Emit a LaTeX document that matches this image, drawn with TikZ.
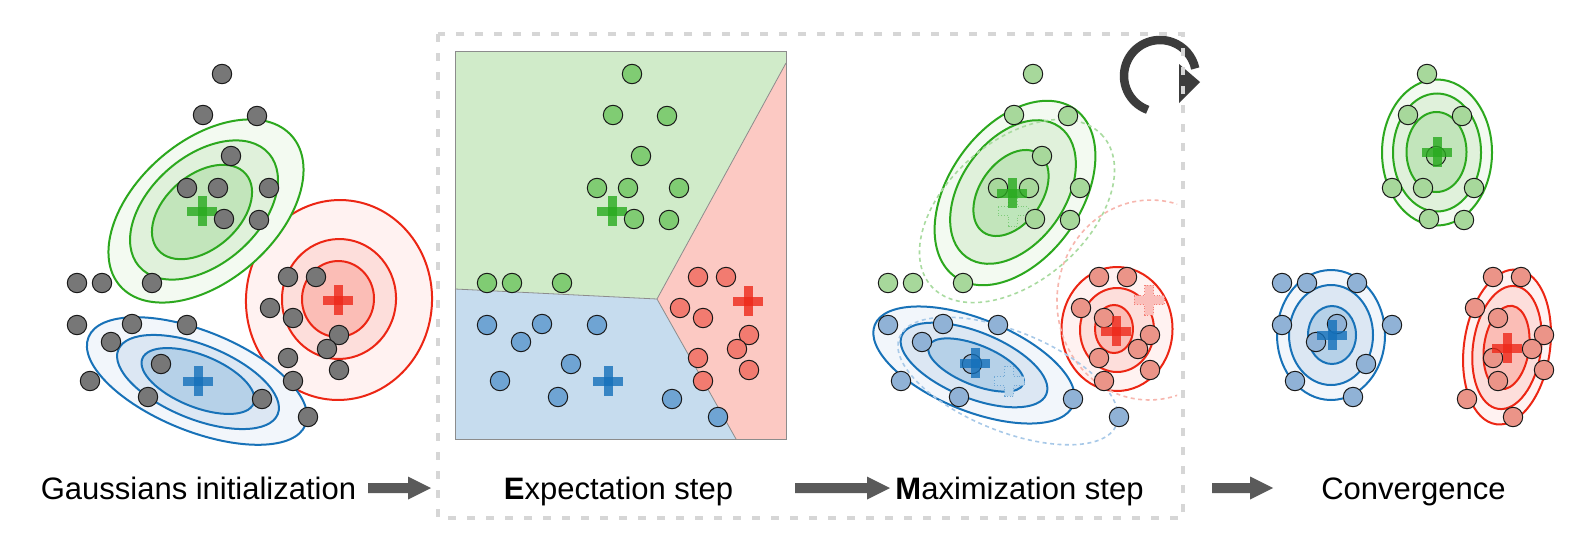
\documentclass[tikz,border=0pt]{standalone}
\usepackage{fontspec}
\setmainfont{Liberation Sans}
\definecolor{gline}{RGB}{44,168,30}
\definecolor{gfa}{HTML}{F3FAF1}
\definecolor{gfb}{HTML}{E0F1DB}
\definecolor{gfc}{HTML}{C2E5BB}
\definecolor{rline}{RGB}{236,38,20}
\definecolor{rfa}{HTML}{FFF2F1}
\definecolor{rfb}{HTML}{FDDEDB}
\definecolor{rfc}{HTML}{FBBDB6}
\definecolor{bline}{RGB}{24,114,184}
\definecolor{bfa}{HTML}{F2F6FB}
\definecolor{bfb}{HTML}{DCE7F3}
\definecolor{bfc}{HTML}{B6D1E8}
\definecolor{gcr}{RGB}{40,170,30}
\definecolor{rcr}{RGB}{238,40,25}
\definecolor{bcr}{RGB}{20,112,186}
\definecolor{ptgray}{HTML}{777777}
\definecolor{eg}{HTML}{80CC73}
\definecolor{er}{HTML}{F27B70}
\definecolor{eb}{HTML}{6FA4D3}
\definecolor{mg}{HTML}{A7D89B}
\definecolor{mr}{HTML}{EB9488}
\definecolor{mb}{HTML}{90B2D6}
\definecolor{regg}{HTML}{D0EBC9}
\definecolor{regr}{HTML}{FCC9C3}
\definecolor{regb}{HTML}{C6DCEE}
\definecolor{arrowgray}{HTML}{5A5A5A}
\definecolor{loopgray}{HTML}{3C3C3C}
\definecolor{boxgray}{HTML}{D6D6D6}
\definecolor{oldg}{HTML}{A9DBA0}
\definecolor{oldr}{HTML}{F7B6AE}
\definecolor{oldb}{HTML}{A8C9E8}

% point sets (initial panel coordinates)
\def\Gmain{222/74,203/115,257/116,231/156,187/188,218/188,269/188,224/219,259/220}
\def\Gout{77/283,102/283,152/283}
\def\Bmain{77/325,132/324,187/325,111/342,161/364,90/381,148/397}
\def\Bout{262/399,308/417}
\def\Rmain{288/277,316/277,270/308,293/318,339/335,327/349,288/358,339/370,293/381}

\newcommand{\gring}[6]{\draw[ell,draw=#5,fill=#6,shift={#1},rotate=#2] (0,0) ellipse [x radius=#3pt, y radius=#4pt];}
\newcommand{\oldring}[5]{\draw[oldell,draw=#5,shift={#1},rotate=#2] (0,0) ellipse [x radius=#3pt, y radius=#4pt];}
\newcommand{\plusmark}[2]{%
  \fill[#2,fill opacity=0.8,shift={#1}] (-15,-4.5) rectangle (15,4.5);
  \fill[#2,fill opacity=0.8,shift={#1}] (-4.5,-15) rectangle (4.5,15);}
\newcommand{\oldplus}[2]{%
  \draw[draw=#2!60,fill=#2!30,dotted,line width=0.9pt,shift={#1}]
    (-15,-4.5) -- (-4.5,-4.5) -- (-4.5,-15) -- (4.5,-15) -- (4.5,-4.5) -- (15,-4.5)
    -- (15,4.5) -- (4.5,4.5) -- (4.5,15) -- (-4.5,15) -- (-4.5,4.5) -- (-15,4.5) -- cycle;}
\newcommand{\ptset}[3]{\foreach \px/\py in #1 {\draw[pt,fill=#3] (\px+#2,\py) circle[radius=9.7pt];}}
\newcommand{\fatarrow}[2]{%
  \fill[arrowgray] ([shift={(0,-5)}]#1) -- ([shift={(-23,-5)}]#2) -- ([shift={(-23,-11.5)}]#2)
    -- (#2) -- ([shift={(-23,11.5)}]#2) -- ([shift={(-23,5)}]#2) -- ([shift={(0,5)}]#1) -- cycle;}

\begin{document}
\begin{tikzpicture}[x=1pt,y=-1pt,
  pt/.style={draw=black!90,line width=1pt},
  ell/.style={line width=2pt},
  oldell/.style={line width=1.6pt,dash pattern=on 4pt off 3.5pt},
  lbl/.style={font=\fontsize{31}{37}\selectfont,inner sep=0pt,text=black},
  dashbox/.style={draw=boxgray,line width=4.5pt,dash pattern=on 8pt off 11pt},
  region/.style={draw=black!45,line width=0.8pt}]

\fill[white] (0,0) rectangle (1592,538);
\useasboundingbox (0,0) rectangle (1592,538);

% ---------- Gaussians initialization ----------
\gring{(339,300)}{-4}{93}{100}{rline}{rfa}
\gring{(339,299)}{-4}{57}{60}{rline}{rfb}
\gring{(338,299)}{-4}{36}{38}{rline}{rfc}
\gring{(206,211)}{41}{114}{70}{gline}{gfa}
\gring{(204,210)}{41}{86}{54}{gline}{gfb}
\gring{(202,212)}{41}{58}{37}{gline}{gfc}
\gring{(197,381)}{-22}{117}{50}{bline}{bfa}
\gring{(198,382)}{-22}{86}{37}{bline}{bfb}
\gring{(198,381)}{-22}{60}{26}{bline}{bfc}
\plusmark{(202,211)}{gcr}
\plusmark{(338,300)}{rcr}
\plusmark{(198,381)}{bcr}
\ptset{\Gmain}{0}{ptgray}
\ptset{\Gout}{0}{ptgray}
\ptset{\Bmain}{0}{ptgray}
\ptset{\Bout}{0}{ptgray}
\ptset{\Rmain}{0}{ptgray}

% ---------- Expectation step ----------
\fill[regg] (455,51) -- (786,51) -- (786,63) -- (657,299) -- (455,289) -- cycle;
\fill[regr] (786,63) -- (786,439) -- (736,439) -- (657,299) -- cycle;
\fill[regb] (455,289) -- (657,299) -- (736,439) -- (455,439) -- cycle;
\draw[region] (455,289) -- (657,299) -- (786,63);
\draw[region] (657,299) -- (736,439);
\draw[region] (455,51) rectangle (786,439);
\plusmark{(612,211)}{gcr}
\plusmark{(748,301)}{rcr}
\plusmark{(608,381)}{bcr}
\ptset{\Gmain}{410}{eg}
\ptset{\Gout}{410}{eg}
\ptset{\Bmain}{410}{eb}
\ptset{\Bout}{410}{eb}
\ptset{\Rmain}{410}{er}

% ---------- Maximization step ----------
\gring{(1117,329)}{0}{55.5}{62}{rline}{rfa}
\gring{(1117,330)}{0}{37}{42}{rline}{rfb}
\gring{(1114,329)}{0}{19}{24}{rline}{rfc}
\gring{(1015,193)}{54.5}{103}{66}{gline}{gfa}
\gring{(1013,192)}{54.5}{80}{52}{gline}{gfb}
\gring{(1011,193)}{54.5}{48}{31}{gline}{gfc}
\gring{(974,365)}{-22}{107}{46}{bline}{bfa}
\gring{(974,365)}{-22}{78}{33}{bline}{bfb}
\gring{(976,365)}{-22}{51}{20}{bline}{bfc}
\begin{scope}
  \clip (840,30) rectangle (1177,460);
  \oldring{(1150,300)}{-4}{93}{100}{oldr}
\end{scope}
\oldring{(1017,211)}{41}{114}{70}{oldg}
\oldring{(1008,381)}{-22}{117}{50}{oldb}
\oldplus{(1013,211)}{gcr}
\oldplus{(1149,300)}{rcr}
\oldplus{(1009,381)}{bcr}
\ptset{\Gmain}{811}{mg}
\ptset{\Gout}{811}{mg}
\ptset{\Bmain}{811}{mb}
\ptset{\Bout}{811}{mb}
\ptset{\Rmain}{811}{mr}
\plusmark{(1012,193)}{gcr}
\plusmark{(1116,331)}{rcr}
\plusmark{(975,363)}{bcr}

% ---------- Convergence ----------
\gring{(1437,152.5)}{0}{55}{73}{gline}{gfa}
\gring{(1437,152.5)}{0}{44}{59}{gline}{gfb}
\gring{(1436.5,152)}{0}{30}{40}{gline}{gfc}
\gring{(1331,335)}{0}{54}{65}{bline}{bfa}
\gring{(1331,335)}{0}{42}{50}{bline}{bfb}
\gring{(1332,335)}{0}{24}{29}{bline}{bfc}
\gring{(1507,347)}{-8}{43}{78}{rline}{rfa}
\gring{(1507,347.5)}{-8}{34}{62}{rline}{rfb}
\gring{(1506.5,347.5)}{-8}{22.5}{42}{rline}{rfc}
\ptset{\Gmain}{1205}{mg}
\ptset{\Gout}{1205}{mb}
\ptset{\Bmain}{1205}{mb}
\ptset{\Bout}{1205}{mr}
\ptset{\Rmain}{1205}{mr}
\plusmark{(1437,152)}{gcr}
\plusmark{(1332,335)}{bcr}
\plusmark{(1507,348)}{rcr}

% ---------- loop icon and dashed frame ----------
\coordinate (loopc) at (1160,76);
\draw[loopgray,line width=8.5pt] ([shift={(250:36pt)}]loopc) arc[start angle=250, end angle=12, radius=36pt];
\fill[loopgray] (1179,64) -- (1200,82) -- (1179,103) -- cycle;
\draw[dashbox] (438,34) rectangle (1183,518);

% ---------- labels and arrows ----------
\node[lbl,anchor=base] (linit) at (198.5,499) {Gaussians initialization};
\node[lbl,anchor=base] (lestep) at (618.5,499) {\textbf{E}xpectation step};
\node[lbl,anchor=base] (lmstep) at (1019.5,499) {\textbf{M}aximization step};
\node[lbl,anchor=base] (lconv) at (1413.5,499) {Convergence};
\coordinate (a1s) at (368,488);
\coordinate (a1e) at (431,488);
\coordinate (a2s) at (795,488);
\coordinate (a2e) at (890,488);
\coordinate (a3s) at (1212,488);
\coordinate (a3e) at (1273,488);
\fatarrow{a1s}{a1e}
\fatarrow{a2s}{a2e}
\fatarrow{a3s}{a3e}
\end{tikzpicture}
\end{document}
